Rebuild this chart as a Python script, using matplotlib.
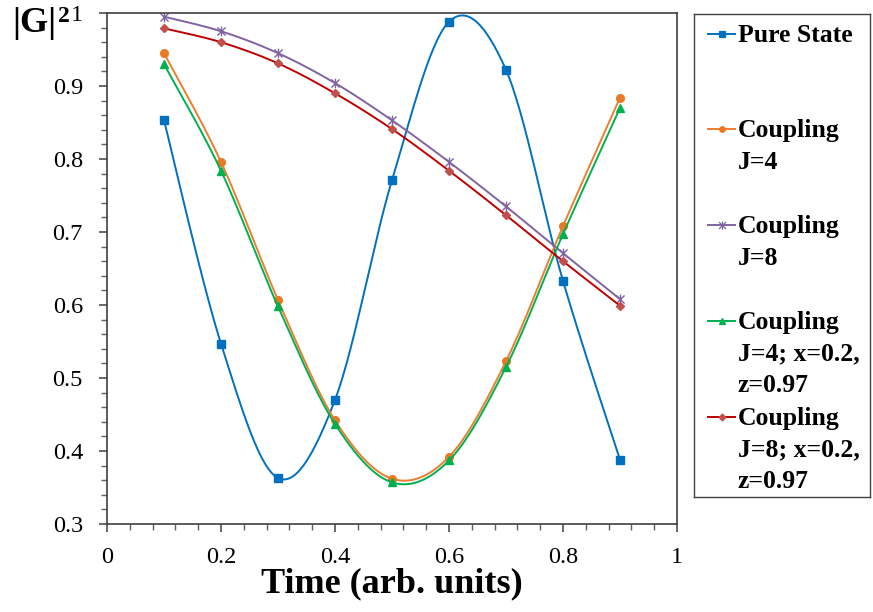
import numpy as np
import matplotlib
matplotlib.use("Agg")
import matplotlib.pyplot as plt
from matplotlib.ticker import MultipleLocator, FuncFormatter
from matplotlib.path import Path

plt.rcParams['font.family'] = ['Liberation Serif', 'DejaVu Serif']

# data
time = [0.1, 0.2, 0.3, 0.4, 0.5, 0.6, 0.7, 0.8, 0.9]
pure = [0.853, 0.547, 0.363, 0.470, 0.771, 0.988, 0.922, 0.633, 0.388]
j4 = [0.945, 0.796, 0.607, 0.442, 0.362, 0.392, 0.523, 0.708, 0.884]
j8 = [0.995, 0.975, 0.945, 0.904, 0.853, 0.796, 0.735, 0.671, 0.608]
j4xz = [0.930, 0.784, 0.598, 0.437, 0.357, 0.387, 0.515, 0.697, 0.870]
j8xz = [0.979, 0.960, 0.931, 0.890, 0.841, 0.784, 0.723, 0.660, 0.599]

labels = ["Pure State", "Coupling\nJ=4", "Coupling\nJ=8",
          "Coupling\nJ=4; x=0.2,\nz=0.97", "Coupling\nJ=8; x=0.2,\nz=0.97"]

# excel "star" marker: an x with a vertical bar
star = Path([(-1, -1), (1, 1), (-1, 1), (1, -1), (0, -1.2), (0, 1.2)],
            [Path.MOVETO, Path.LINETO, Path.MOVETO, Path.LINETO, Path.MOVETO, Path.LINETO])


def smooth(x, y, n=30):
    # excel style smoothed line (catmull-rom bezier)
    x = np.asarray(x, float)
    y = np.asarray(y, float)
    px = np.concatenate([[x[0]], x, [x[-1]]])
    py = np.concatenate([[y[0]], y, [y[-1]]])
    xs, ys = [], []
    t = np.linspace(0, 1, n)
    for i in range(1, len(px) - 2):
        p0 = np.array([px[i], py[i]])
        p3 = np.array([px[i + 1], py[i + 1]])
        c1 = p0 + (p3 - np.array([px[i - 1], py[i - 1]])) / 6
        c2 = p3 - (np.array([px[i + 2], py[i + 2]]) - p0) / 6
        b = ((1 - t) ** 3)[:, None] * p0 + (3 * (1 - t) ** 2 * t)[:, None] * c1 \
            + (3 * (1 - t) * t ** 2)[:, None] * c2 + (t ** 3)[:, None] * p3
        xs.extend(b[:, 0])
        ys.extend(b[:, 1])
    return xs, ys


fig = plt.figure(figsize=(8.73, 6.12), dpi=100)
ax = fig.add_axes([107 / 873, 1 - 524 / 612, 570 / 873, 511 / 612])

series = [
    (pure, '#0070C0', '#0070C0', 's', 5.5, 4.0),
    (j4, '#ED7D31', '#E97A23', 'o', 5.5, 4.0),
    (j8, '#8064A2', '#8064A2', star, 7, 6.0),
    (j4xz, '#00B050', '#00B050', '^', 6, 4.5),
    (j8xz, '#C00000', '#C0504D', 'D', 4.5, 3.5),
]
for vals, lc, mc, mk, ms, lms in series:
    sx, sy = smooth(time, vals)
    ax.plot(sx, sy, color=lc, lw=1.4)
    ax.plot(time, vals, ls='none', marker=mk, color=mc, ms=ms, mew=1.0)

ax.set_xlim(0, 1)
ax.set_ylim(0.3, 1)
ax.xaxis.set_major_locator(MultipleLocator(0.2))
ax.xaxis.set_minor_locator(MultipleLocator(0.04))
ax.yaxis.set_major_locator(MultipleLocator(0.1))
ax.yaxis.set_minor_locator(MultipleLocator(0.02))
fmt = lambda v, p: '%d' % round(v) if abs(v - round(v)) < 1e-9 else '%.1f' % v
ax.xaxis.set_major_formatter(FuncFormatter(fmt))
ax.yaxis.set_major_formatter(FuncFormatter(fmt))
ax.tick_params(which='major', direction='out', length=5.8, width=1.1, color='#404040', labelsize=17.5)
ax.tick_params(which='minor', direction='out', length=4.3, width=1.0, color='#606060')
ax.tick_params(axis='x', which='major', pad=10.5)
ax.tick_params(axis='y', which='major', pad=11.5)
for s in ax.spines.values():
    s.set_color('#404040')
    s.set_linewidth(1.2)

ax.set_xlabel("Time (arb. units)", fontsize=26, fontweight='bold', labelpad=0)
fig.text(12 / 873, 1 - 32 / 612, "|G|", fontsize=26, fontweight='bold', ha='left', va='baseline')
fig.text(58 / 873, 1 - 22 / 612, "2", fontsize=17, fontweight='bold', ha='left', va='baseline')

# legend box, laid out like the excel one (handle beside the first line)
lax = fig.add_axes([694 / 873, 1 - 497 / 612, 176 / 873, 483 / 612])
lax.set_xlim(694, 870)
lax.set_ylim(497, 14)
lax.set_xticks([])
lax.set_yticks([])
for s in lax.spines.values():
    s.set_color('#404040')
    s.set_linewidth(1.0)
for i, ((vals, lc, mc, mk, ms, lms), lab) in enumerate(zip(series, labels)):
    base = 41.5 + i * 95.8
    lax.plot([708, 735], [base - 8, base - 8], color=lc, lw=1.4)
    lax.plot([721.5], [base - 8], marker=mk, color=mc, ms=lms, mew=0.9)
    for k, line in enumerate(lab.split("\n")):
        lax.text(738, base + k * 31.7, line, fontsize=18.5, fontweight='bold',
                 ha='left', va='baseline')

fig.savefig("out.png", dpi=100)
